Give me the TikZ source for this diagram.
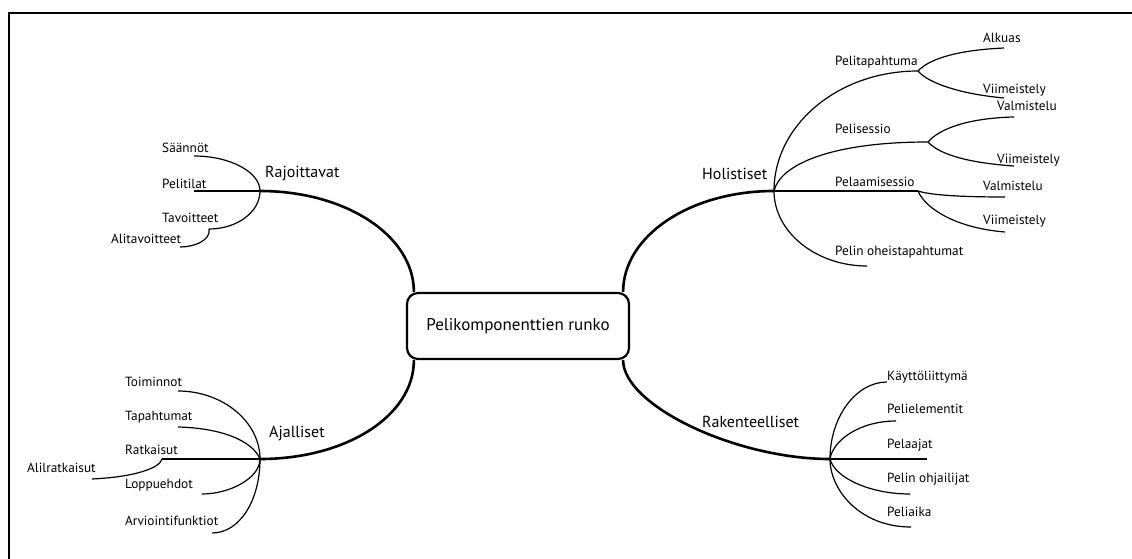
\documentclass[tikz,border=0pt]{standalone}
\usepackage{fontspec}
\setmainfont{PT Sans}
\begin{document}
\begin{tikzpicture}[x=1pt,y=-1pt,
  paa/.style={line width=2.6pt},
  haara/.style={line width=1.2pt},
  pieni/.style={font=\fontsize{13.3}{15}\selectfont,anchor=base west,inner sep=0pt},
  iso/.style={font=\fontsize{16}{19}\selectfont,anchor=base west,inner sep=0pt}]

\useasboundingbox (0,0) rectangle (1132,559) ;

% kehys

\draw[line width=2.4pt] (8.7,559) -- (8.7,13.2) -- (1132,13.2) ;

% keskus

\node[draw,line width=2.2pt,rounded corners=11pt,minimum width=222pt,minimum height=66pt,font=\fontsize{17}{20}\selectfont] (runko) at (518,326) {Pelikomponenttien runko} ;

\coordinate (raj) at (260,191) ;
\coordinate (ajal) at (260,459) ;
\coordinate (holi) at (774,191) ;
\coordinate (rake) at (830,459) ;

% paaoksat

\draw[paa] ([xshift=8pt]runko.north west) .. controls +(0,-56) and +(86,0) .. (raj) ;
\draw[paa] ([xshift=8pt]runko.south west) .. controls +(0,56) and +(86,0) .. (ajal) ;
\draw[paa] ([xshift=-7pt]runko.north east) .. controls +(0,-56) and +(-84,0) .. (holi) ;
\draw[paa] ([xshift=-7pt]runko.south east) .. controls +(0,45) and +(-95,0) .. (rake) ;

\node[iso] (rajt) at (265,177) {Rajoittavat} ;
\node[iso] (ajalt) at (269,437) {Ajalliset} ;
\node[iso] (holit) at (702,179) {Holistiset} ;
\node[iso] (raket) at (702,427) {Rakenteelliset} ;

% rajoittavat

\coordinate (saa) at (194,156) ;
\coordinate (pti) at (194,191) ;
\coordinate (tav) at (209,229) ;
\coordinate (ali) at (180,247) ;

\draw[haara] (raj) .. controls (260,172) and (230,156) .. (saa) ;
\draw[haara] (raj) -- (pti) ;
\draw[haara] (raj) .. controls (260,212) and (237,229) .. (tav) ;
\draw[haara] (tav) .. controls (211,240) and (195,247) .. (ali) ;

\node[pieni] (saat) at (162,153) {Säännöt} ;
\node[pieni] (ptit) at (162,188) {Pelitilat} ;
\node[pieni] (tavt) at (162,222) {Tavoitteet} ;
\node[pieni] (alit) at (111,243) {Alitavoitteet} ;

% ajalliset

\coordinate (toi) at (178,391) ;
\coordinate (tap) at (178,427) ;
\coordinate (rat) at (162,459) ;
\coordinate (alr) at (92,479) ;
\coordinate (lop) at (202,494) ;
\coordinate (arv) at (212,533) ;

\draw[haara] (ajal) .. controls (260,422) and (223,391) .. (toi) ;
\draw[haara] (ajal) .. controls (252,440) and (220,428) .. (tap) ;
\draw[haara] (ajal) -- (rat) ;
\draw[haara] (rat) .. controls (160,468) and (135,477) .. (alr) ;
\draw[haara] (ajal) .. controls (260,478) and (230,494) .. (lop) ;
\draw[haara] (ajal) .. controls (260,500) and (240,533) .. (arv) ;

\node[pieni] (toit) at (125,386) {Toiminnot} ;
\node[pieni] (tapt) at (125,420) {Tapahtumat} ;
\node[pieni] (ratt) at (125,454) {Ratkaisut} ;
\node[pieni] (alrt) at (27,472) {Alilratkaisut} ;
\node[pieni] (lopt) at (125,488) {Loppuehdot} ;
\node[pieni] (arvt) at (125,525) {Arviointifunktiot} ;

% holistiset

\coordinate (ptp) at (918,71) ;
\coordinate (alk) at (1004,48) ;
\coordinate (vii1) at (1004,98) ;
\coordinate (pss) at (928,142) ;
\coordinate (val2) at (1014,117) ;
\coordinate (vii2) at (1014,166) ;
\coordinate (pms) at (918,191) ;
\coordinate (val3) at (1005,197) ;
\coordinate (vii3) at (1005,232) ;
\coordinate (ohe) at (867,266) ;

\draw[haara] (holi) .. controls (774,125) and (838,71) .. (ptp) ;
\draw[haara] (ptp) .. controls (930,58) and (960,50) .. (alk) ;
\draw[haara] (ptp) .. controls (928,83) and (960,94) .. (vii1) ;
\draw[haara] (holi) .. controls (780,165) and (830,142) .. (pss) ;
\draw[haara] (pss) .. controls (940,128) and (970,118) .. (val2) ;
\draw[haara] (pss) .. controls (940,155) and (970,163) .. (vii2) ;
\draw[haara] (holi) -- (pms) ;
\draw[haara] (pms) .. controls (930,195) and (960,197) .. (val3) ;
\draw[haara] (pms) .. controls (925,208) and (955,228) .. (vii3) ;
\draw[haara] (holi) .. controls (774,232) and (816,266) .. (ohe) ;

\node[pieni] (ptpt) at (835,66) {Pelitapahtuma} ;
\node[pieni] (alkt) at (983,43) {Alkuas} ;
\node[pieni] (vii1t) at (983,94) {Viimeistely} ;
\node[pieni] (psst) at (835,134) {Pelisessio} ;
\node[pieni] (val2t) at (997,111) {Valmistelu} ;
\node[pieni] (vii2t) at (997,163) {Viimeistely} ;
\node[pieni] (pmst) at (835,186) {Pelaamisessio} ;
\node[pieni] (val3t) at (983,190) {Valmistelu} ;
\node[pieni] (vii3t) at (983,224) {Viimeistely} ;
\node[pieni] (ohet) at (835,255) {Pelin oheistapahtumat} ;

% rakenteelliset

\coordinate (kay) at (887,382) ;
\coordinate (pel) at (896,421) ;
\coordinate (pja) at (927,459) ;
\coordinate (ohj) at (910,494) ;
\coordinate (aik) at (911,527) ;

\draw[haara] (rake) .. controls (830,417) and (856,382) .. (kay) ;
\draw[haara] (rake) .. controls (833,440) and (860,421) .. (pel) ;
\draw[haara] (rake) -- (pja) ;
\draw[haara] (rake) .. controls (835,478) and (870,494) .. (ohj) ;
\draw[haara] (rake) .. controls (830,490) and (860,527) .. (aik) ;

\node[pieni] (kayt) at (887,380) {Käyttöliittymä} ;
\node[pieni] (pelt) at (887,413) {Pelielementit} ;
\node[pieni] (pjat) at (887,448) {Pelaajat} ;
\node[pieni] (ohjt) at (887,482) {Pelin ohjailijat} ;
\node[pieni] (aikt) at (887,516) {Peliaika} ;

\end{tikzpicture}
\end{document}
